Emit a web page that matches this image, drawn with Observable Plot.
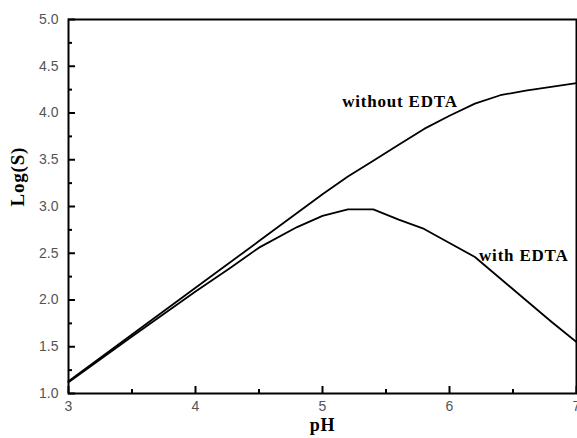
<!DOCTYPE html>
<html><head><meta charset="utf-8">
<script src="https://cdn.jsdelivr.net/npm/d3@7"></script>
<script src="https://cdn.jsdelivr.net/npm/@observablehq/plot@0.6"></script>
<style>body{margin:0;background:#fff} #chart{width:577px;height:438px}</style>
</head><body><div id="chart"></div>
<script>
// Data
const pHWithout   = [3.0, 3.5, 4.0, 4.5, 5.0, 5.2, 5.4, 5.6, 5.8, 6.0, 6.2, 6.4, 6.6, 6.8, 7.0];
const logSWithout = [1.13, 1.63, 2.13, 2.63, 3.13, 3.32, 3.49, 3.66, 3.83, 3.97, 4.10, 4.19, 4.24, 4.28, 4.32];
const pHWith      = [3.0, 3.5, 4.0, 4.27, 4.5, 4.8, 5.0, 5.2, 5.4, 5.6, 5.8, 6.0, 6.2, 6.4, 6.6, 6.8, 7.0];
const logSWith    = [1.12, 1.61, 2.09, 2.34, 2.56, 2.78, 2.90, 2.97, 2.97, 2.86, 2.76, 2.61, 2.46, 2.23, 2.00, 1.77, 1.55];
const xTicks = [3, 4, 5, 6, 7];
const xMinor = [3.5, 4.5, 5.5, 6.5];
const yTicks = [1.0, 1.5, 2.0, 2.5, 3.0, 3.5, 4.0, 4.5, 5.0];
const yMinor = [1.25, 1.75, 2.25, 2.75, 3.25, 3.75, 4.25, 4.75];
const annotations = ["without EDTA", "with EDTA"];
const annotX = [5.61, 6.585];
const annotY = [4.12, 2.48];

const without = pHWithout.map((x, i) => ({x, y: logSWithout[i]}));
const withE = pHWith.map((x, i) => ({x, y: logSWith[i]}));
const notes = annotations.map((t, i) => ({t, x: annotX[i], y: annotY[i]}));

const W = 577, H = 438, mL = 68, mR = 1, mT = 19, mB = 45;
const xPerPx = 4 / (W - mL - mR);
const yPerPx = 4 / (H - mT - mB);
const serif = "'Liberation Serif', 'Times New Roman', serif";

const chart = Plot.plot({
  width: W, height: H,
  marginLeft: mL, marginRight: mR, marginTop: mT, marginBottom: mB,
  style: {fontFamily: "'Liberation Sans', Arial, sans-serif", fontSize: "14px", background: "#fff"},
  x: {domain: [3, 7], ticks: xTicks},
  y: {domain: [1, 5], ticks: yTicks},
  marks: [
    Plot.axisY(yTicks, {tickSize: 0, tickPadding: 10, tickFormat: d3.format(".1f"), color: "#555555", label: null, fontSize: 14}),
    Plot.axisX(xTicks, {tickSize: 0, tickPadding: 8, tickFormat: d3.format("d"), color: "#555555", label: null, fontSize: 14}),
    Plot.ruleY(yTicks, {y: d => d, x1: 3, x2: 3 + 7 * xPerPx, stroke: "black", strokeWidth: 2}),
    Plot.ruleY(yMinor, {y: d => d, x1: 3, x2: 3 + 4 * xPerPx, stroke: "black", strokeWidth: 2}),
    Plot.ruleX(xTicks, {x: d => d, y1: 1, y2: 1 + 7 * yPerPx, stroke: "black", strokeWidth: 2}),
    Plot.ruleX(xMinor, {x: d => d, y1: 1, y2: 1 + 4 * yPerPx, stroke: "black", strokeWidth: 2}),
    Plot.line(without, {x: "x", y: "y", stroke: "black", strokeWidth: 1.8}),
    Plot.line(withE, {x: "x", y: "y", stroke: "black", strokeWidth: 1.8}),
    Plot.text(notes, {x: "x", y: "y", text: "t", fontFamily: serif, fontWeight: "bold", fontSize: 17, fill: "black", textAnchor: "middle", lineAnchor: "middle"}),
    Plot.frame({stroke: "black", strokeWidth: 2}),
    Plot.text(["pH"], {frameAnchor: "bottom", dy: 32, text: d => d, fontFamily: serif, fontWeight: "bold", fontSize: 18, fill: "black", lineAnchor: "middle"}),
    Plot.text(["Log(S)"], {frameAnchor: "left", dx: -51, rotate: -90, text: d => d, fontFamily: serif, fontWeight: "bold", fontSize: 19, fill: "black", lineAnchor: "middle"})
  ]
});
document.getElementById("chart").appendChild(chart);
chart.querySelectorAll("g[aria-label='text'] text").forEach(t => t.setAttribute("letter-spacing", "0.8"));
</script>
</body></html>
